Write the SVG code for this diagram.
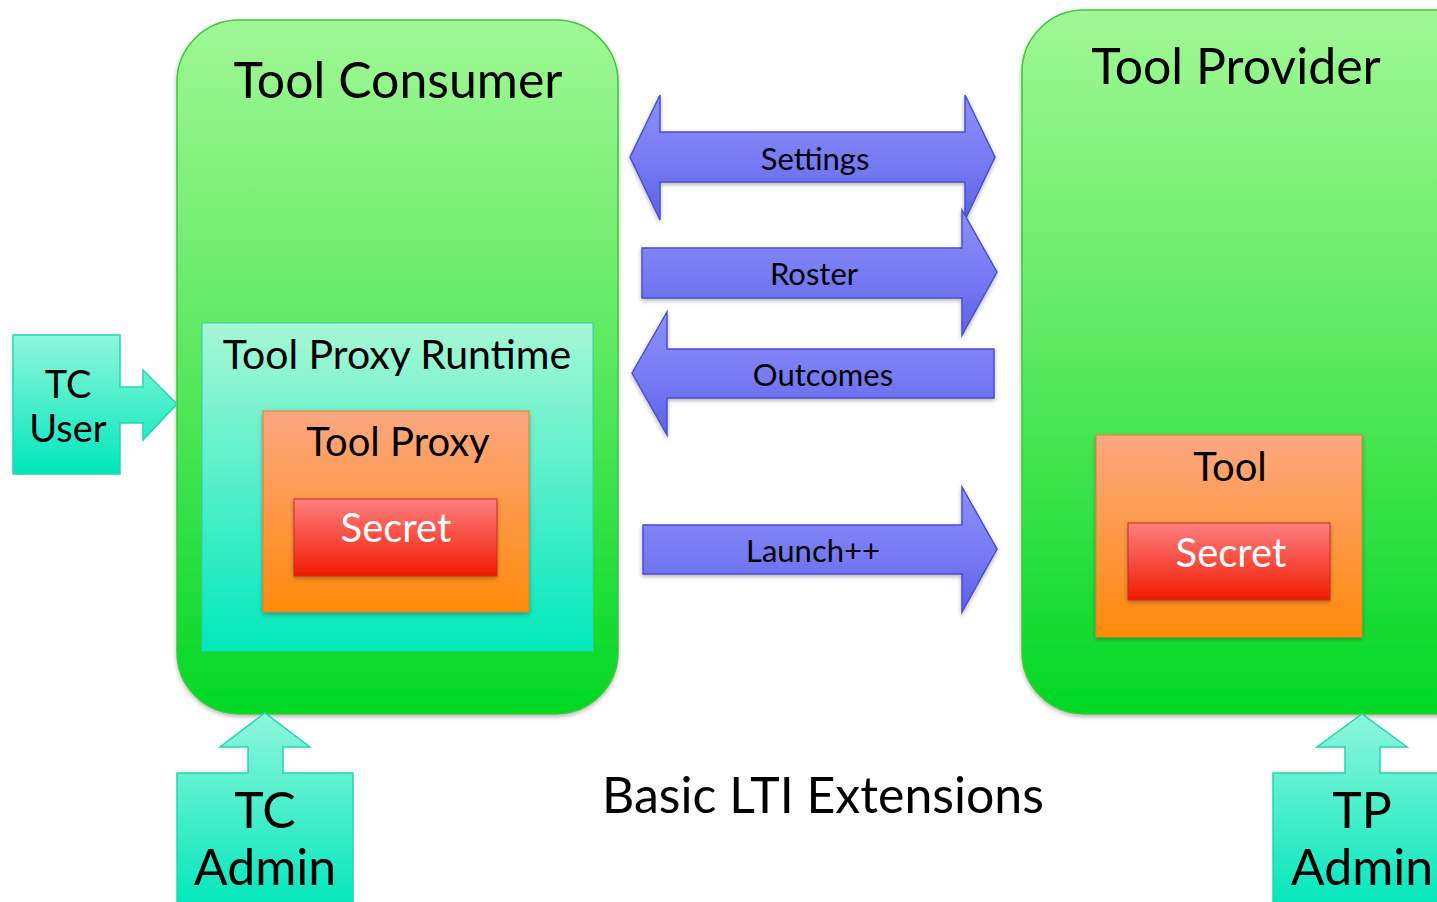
<svg xmlns="http://www.w3.org/2000/svg" width="1437" height="902" viewBox="0 0 1437 902">
<defs>
<linearGradient id="gGreen" x1="0" y1="0" x2="0" y2="1"><stop offset="0" stop-color="#a0f895"/><stop offset="0.5" stop-color="#5ae85e"/><stop offset="1" stop-color="#00d824"/></linearGradient>
<linearGradient id="gCyan" x1="0" y1="0" x2="0" y2="1"><stop offset="0" stop-color="#a6f7d6"/><stop offset="1" stop-color="#00e8bc"/></linearGradient>
<linearGradient id="gOrange" x1="0" y1="0" x2="0" y2="1"><stop offset="0" stop-color="#fca781"/><stop offset="1" stop-color="#ff8a0a"/></linearGradient>
<linearGradient id="gRed" x1="0" y1="0" x2="0" y2="1"><stop offset="0" stop-color="#ff8080"/><stop offset="1" stop-color="#f01a00"/></linearGradient>
<linearGradient id="gBlue" x1="0" y1="0" x2="0" y2="1"><stop offset="0" stop-color="#8c90f8"/><stop offset="0.5" stop-color="#787cf4"/><stop offset="1" stop-color="#5e62e6"/></linearGradient>
<linearGradient id="gTeal" x1="0" y1="0" x2="0" y2="1"><stop offset="0" stop-color="#8ff7da"/><stop offset="1" stop-color="#00e6bc"/></linearGradient>
<filter id="sh" x="-10%" y="-10%" width="120%" height="130%"><feDropShadow dx="0" dy="2" stdDeviation="2" flood-color="#000" flood-opacity="0.3"/></filter>
</defs>
<style>
text{font-family:"Lato","Open Sans","DejaVu Sans",sans-serif;fill:#000;text-anchor:middle}
.big{font-size:50px}
.mid{font-size:40px}
.rt{font-size:41px}
.usr{font-size:38px}
.arr{font-size:31px}
.w{fill:#fff}
.blue{fill:url(#gBlue);stroke:#4a4fd0;stroke-width:1.5;filter:url(#sh)}
.teal{fill:url(#gTeal);stroke:#22d6b0;stroke-width:1.5}
</style>
<rect width="1437" height="902" fill="#fff"/>

<g id="tool-consumer">
<rect x="177" y="20" width="441" height="694" rx="62" fill="url(#gGreen)" stroke="#3cc83c" stroke-width="1.5" filter="url(#sh)"/>
<text class="big" x="398" y="98">Tool Consumer</text>
</g>

<g id="tool-provider">
<rect x="1022" y="10" width="480" height="704" rx="62" fill="url(#gGreen)" stroke="#3cc83c" stroke-width="1.5" filter="url(#sh)"/>
<text class="big" x="1236" y="84">Tool Provider</text>
</g>

<g id="tool-proxy-runtime">
<rect x="202" y="323" width="391" height="328" fill="url(#gCyan)" stroke="#33ccb0" stroke-width="1"/>
<text class="rt" x="397" y="369">Tool Proxy Runtime</text>
</g>

<g id="tool-proxy">
<rect x="263" y="411" width="266" height="201" fill="url(#gOrange)" stroke="#e08030" stroke-width="1" filter="url(#sh)"/>
<text class="mid" x="398" y="456">Tool Proxy</text>
</g>

<g id="secret-tc">
<rect x="294" y="499" width="203" height="77" fill="url(#gRed)" stroke="#c03020" stroke-width="1" filter="url(#sh)"/>
<text class="mid w" x="396" y="542">Secret</text>
</g>

<g id="tool">
<rect x="1096" y="435" width="266" height="202" fill="url(#gOrange)" stroke="#e08030" stroke-width="1" filter="url(#sh)"/>
<text class="mid" x="1230" y="481">Tool</text>
</g>

<g id="secret-tp">
<rect x="1128" y="523" width="202" height="77" fill="url(#gRed)" stroke="#c03020" stroke-width="1" filter="url(#sh)"/>
<text class="mid w" x="1231" y="567">Secret</text>
</g>

<g id="tc-user">
<path class="teal" d="M13 335 H120 V387 H143 V370 L177 404 L143 440 V423 H120 V474 H13 Z"/>
<text class="usr" x="68" y="398">TC</text>
<text class="usr" x="68" y="442">User</text>
</g>

<g id="tc-admin">
<path class="teal" d="M177 773 H248 V747 H220 L265 713 L310 747 H283 V773 H353 V910 H177 Z"/>
<text class="big" x="265" y="828">TC</text>
<text class="big" x="265" y="885">Admin</text>
</g>

<g id="tp-admin">
<path class="teal" d="M1273 773 H1345 V747 H1317 L1362 714 L1407 747 H1380 V773 H1445 V910 H1273 Z"/>
<text class="big" x="1362" y="828">TP</text>
<text class="big" x="1362" y="885">Admin</text>
</g>

<g id="connectors">
<path class="blue" d="M630 157 L660 95 V132 H965 V95 L995 157 L965 220 V182 H660 V220 Z"/>
<text class="arr" x="815" y="170">Settings</text>
<path class="blue" d="M642 248 H962 V210 L997 272 L962 335 V298 H642 Z"/>
<text class="arr" x="814" y="285">Roster</text>
<path class="blue" d="M632 373 L667 312 V349 H994 V398 H667 V435 Z"/>
<text class="arr" x="823" y="386">Outcomes</text>
<path class="blue" d="M643 525 H962 V487 L997 549 L962 612 V574 H643 Z"/>
<text class="arr" x="813" y="562">Launch++</text>
</g>

<text class="big" x="823" y="813">Basic LTI Extensions</text>
</svg>
